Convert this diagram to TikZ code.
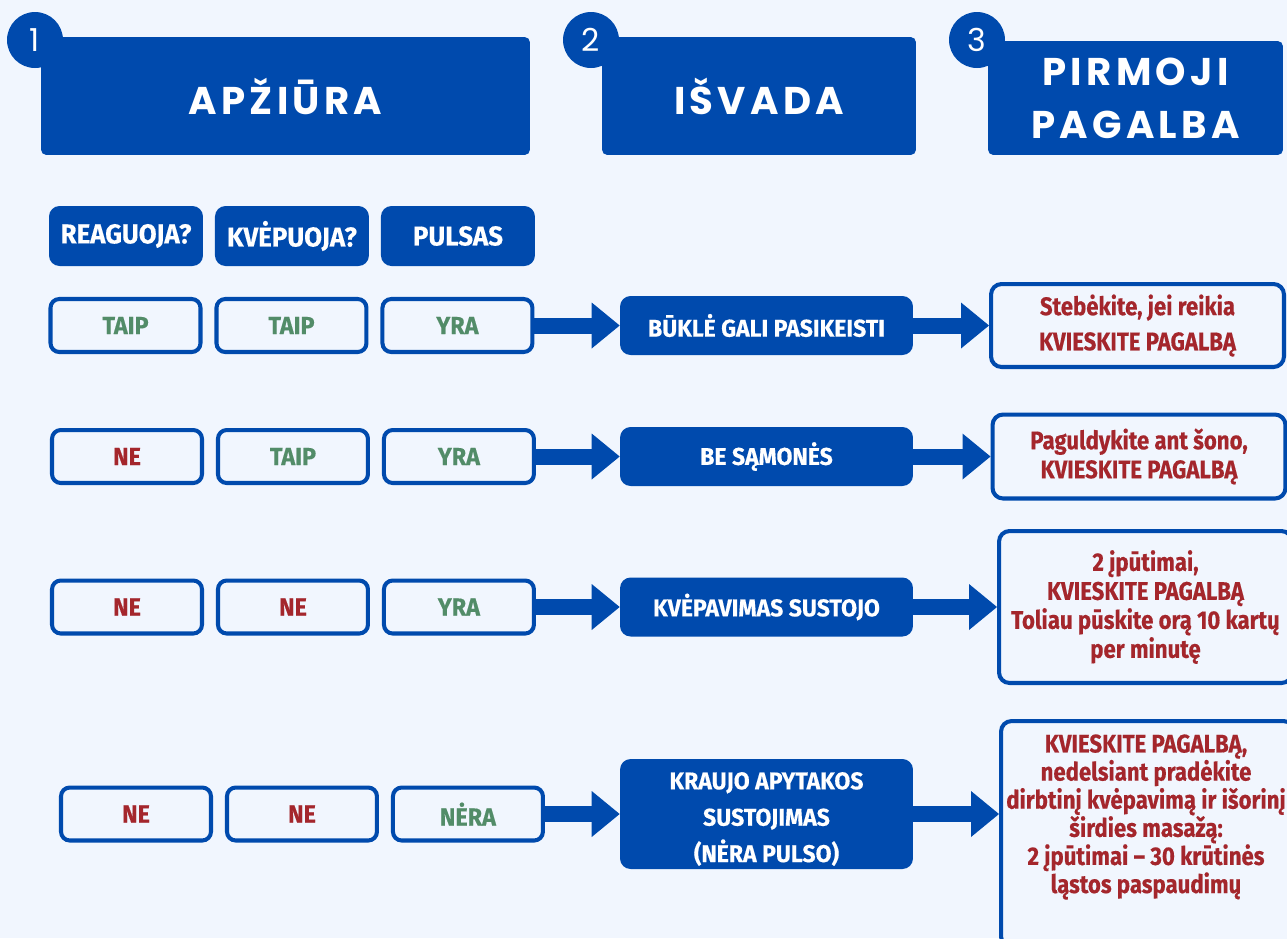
\documentclass[tikz,border=0pt]{standalone}
\usepackage{fontspec}
\setmainfont{Fira Sans}
\newfontfamily\headfont[LetterSpace=11]{Poppins}
\newfontfamily\numfont{Poppins}
\newfontfamily\bodyfont[FakeStretch=0.87,FakeBold=0.4]{Fira Sans}
\newfontfamily\capsfont[FakeStretch=0.95,FakeBold=0.4]{Fira Sans}
\usetikzlibrary{arrows.meta,positioning}

\definecolor{bgblue}{RGB}{241,246,254}
\definecolor{navy}{RGB}{0,74,173}
\definecolor{alarm}{RGB}{164,38,44}
\definecolor{okgreen}{RGB}{82,140,104}

\tikzset{
  title/.style={fill=navy, rounded corners=3pt, text=white, align=center, inner sep=0pt,
    font=\headfont\bfseries\fontsize{22}{30}\selectfont},
  badge/.style={circle, fill=navy, minimum size=1.12cm, inner sep=0pt, text=white,
    font=\numfont\fontsize{18}{18}\selectfont},
  colhead/.style={fill=navy, rounded corners=6pt, minimum width=3.08cm, minimum height=1.2cm,
    text=white, font=\capsfont\bfseries\fontsize{15.5}{18}\selectfont},
  answer/.style={draw=navy, line width=2.3pt, fill=bgblue, rounded corners=5pt,
    minimum width=3cm, minimum height=1.06cm, font=\capsfont\bfseries\fontsize{14}{17}\selectfont},
  yes/.style={answer, text=okgreen},
  no/.style={answer, text=alarm},
  verdict/.style={fill=navy, rounded corners=6pt, minimum width=5.86cm, minimum height=1.18cm,
    text=white, align=center, font=\capsfont\bfseries\fontsize{13.8}{20.7}\selectfont},
  action/.style={draw=navy, line width=2.3pt, fill=bgblue, rounded corners=6pt,
    minimum width=5.86cm, text=alarm, align=center,
    font=\bodyfont\bfseries\fontsize{14.5}{16.5}\selectfont},
  flow/.style={color=navy, line width=0.32cm,
    -{Triangle[length=0.56cm,width=0.92cm,line width=0pt]}},
}

\begin{document}
\begin{tikzpicture}[x=0.02cm, y=-0.02cm]
  \useasboundingbox[fill=bgblue] (0,0) rectangle (1287,938);
  \clip (0,0) rectangle (1287,938);

  % antrastes
  \node[badge] (b1) at (35,40) {1};
  \node[title, minimum width=9.78cm, minimum height=2.36cm] (apziura) at (285.5,96) {APŽIŪRA};
  \node[badge] (b2) at (591,40) {2};
  \node[title, minimum width=6.28cm, minimum height=2.36cm] (isvada) at (759,96) {IŠVADA};
  \node[badge] (b3) at (977,40) {3};
  \node[title, minimum width=5.9cm, minimum height=2.28cm] (pagalba) at (1135.5,98) {PIRMOJI\\PAGALBA};

  % stulpeliai
  \node[colhead] (reag) at (126,236) {REAGUOJA?};
  \node[colhead] (kvep) [right of=reag, node distance=3.32cm] {KVĖPUOJA?};
  \node[colhead] (puls) [right of=kvep, node distance=3.32cm] {PULSAS};

  % 1 eilute
  \node[yes] (r1a) at (125.5,325.5) {TAIP};
  \node[yes] (r1b) [right of=r1a, node distance=3.32cm] {TAIP};
  \node[yes] (r1c) [right of=r1b, node distance=3.32cm] {YRA};
  \node[verdict] (mid1) at (766.5,325.5) {BŪKLĖ GALI PASIKEISTI};
  \node[action, minimum height=1.66cm, font=\bodyfont\bfseries\fontsize{14.5}{20}\selectfont]
    (act1) at (1137.5,325.5) {Stebėkite, jei reikia\\KVIESKITE PAGALBĄ};

  % 2 eilute
  \node[no] (r2a) at (127,456.5) {NE};
  \node[yes] (r2b) [right of=r2a, node distance=3.32cm] {TAIP};
  \node[yes] (r2c) [right of=r2b, node distance=3.32cm] {YRA};
  \node[verdict] (mid2) at (766.5,456.5) {BE SĄMONĖS};
  \node[action, minimum height=1.68cm] (act2) at (1139,456.5) {Paguldykite ant šono,\\KVIESKITE PAGALBĄ};

  % 3 eilute
  \node[no] (r3a) at (127,607) {NE};
  \node[no] (r3b) [right of=r3a, node distance=3.32cm] {NE};
  \node[yes] (r3c) [right of=r3b, node distance=3.32cm] {YRA};
  \node[verdict] (mid3) at (766.5,607) {KVĖPAVIMAS SUSTOJO};
  \node[action, minimum height=3.04cm] (act3) at (1145.5,607)
    {2 įpūtimai,\\KVIESKITE PAGALBĄ\\Toliau pūskite orą 10 kartų\\per minutę};

  % 4 eilute
  \node[no] (r4a) at (136,814) {NE};
  \node[no] (r4b) [right of=r4a, node distance=3.32cm] {NE};
  \node[yes] (r4c) [right of=r4b, node distance=3.32cm] {NĖRA};
  \node[verdict, minimum height=2.2cm] (mid4) at (766.5,814) {};
  \node[verdict, fill=none, minimum height=0pt] (mid4txt) at (766.5,819) {KRAUJO APYTAKOS\\SUSTOJIMAS\\(NĖRA PULSO)};
  \node[action, minimum height=4.52cm] (act4) at (1147.5,834) {};
  \node[text=alarm, align=center, font=\bodyfont\bfseries\fontsize{14.5}{16}\selectfont] (act4txt) at (1146,817)
    {KVIESKITE PAGALBĄ,\\nedelsiant pradėkite\\dirbtinį kvėpavimą ir išorinį\\širdies masažą:\\2 įpūtimai – 30 krūtinės\\ląstos paspaudimų};
  \coordinate (in4) at (r4c -| act4.west);

  \path[flow] (r1c) edge (mid1)
              (mid1) edge (act1)
              (r2c) edge (mid2)
              (mid2) edge (act2)
              (r3c) edge (mid3)
              (mid3) edge (act3)
              (r4c) edge (r4c -| mid4.west)
              (r4c -| mid4.east) edge (in4)
              ;
\end{tikzpicture}
\end{document}
